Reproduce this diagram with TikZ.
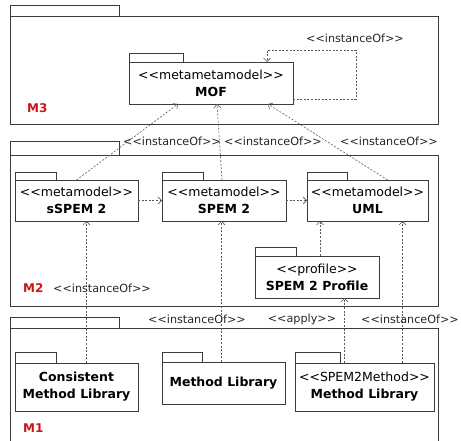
\documentclass[tikz,border=0pt]{standalone}
\usepackage{fontspec}
\setmainfont{DejaVu Sans}
\usepackage{xcolor}
\usepackage{tikz}
\usetikzlibrary{arrows.meta, calc, positioning}
\definecolor{boxline}{RGB}{60,60,60}
\definecolor{depline}{RGB}{90,90,90}
\definecolor{mred}{RGB}{205,20,20}
\newcommand{\stereo}[1]{<{}<#1>{}>}
\tikzset{
    pkg/.style={draw=boxline, line width=0.7pt, fill=white, align=center, inner sep=0pt, outer sep=0pt, font=\fontsize{12.5}{17}\selectfont},
    pkgtab/.style={draw=boxline, line width=0.7pt},
    layer/.style={draw=boxline, line width=0.8pt, inner sep=0pt, outer sep=0pt},
    dep/.style={draw=depline, line width=0.6pt, dash pattern=on 2pt off 1.6pt, ->},
    deplabel/.style={text=black!85, font=\fontsize{11.2}{12}\selectfont, inner sep=0pt},
    mlabel/.style={text=mred, font=\fontsize{12}{13}\selectfont\bfseries, inner sep=0pt, anchor=west}
}

\begin{document}
\begin{tikzpicture}[x=1pt, y=-1pt, >={Straight Barb[length=3.5pt, width=7pt]}]
    \path[use as bounding box, clip] (0,0) rectangle (461,441);
    \fill[white] (0,0) rectangle (461,441);
    % layers
    \node[layer, minimum width=428pt, minimum height=108pt, anchor=north west] (m3) at (10,16) {};
    \draw[layer] (m3.north west) rectangle ++(109,-11);
    \node[layer, minimum width=428pt, minimum height=151pt, anchor=north west] (m2) at (10,155) {};
    \draw[layer] (m2.north west) rectangle ++(109,-14);
    \node[layer, minimum width=428pt, minimum height=130pt, anchor=north west] (m1) at (10,328) {};
    \draw[layer] (m1.north west) rectangle ++(109,-11);
    \node[mlabel] (m3lab) at (27,108) {M3};
    \node[mlabel] (m2lab) at (23,288) {M2};
    \node[mlabel] (m1lab) at (23,428) {M1};
    % M3
    \node[pkg, minimum width=164pt, minimum height=42pt, anchor=north west] (mof) at (129,62)
        {\stereo{metametamodel}\\\textbf{MOF}};
    \draw[pkgtab] (mof.north west) rectangle ++(54,-9);
    % M2
    \node[pkg, minimum width=123pt, minimum height=41pt, anchor=north west] (sspem) at (15,180)
        {\stereo{metamodel}\\\textbf{sSPEM 2}};
    \draw[pkgtab] (sspem.north west) rectangle ++(41,-8);
    \node[pkg, minimum width=124pt, minimum height=41pt, anchor=north west] (spem) at (162,180)
        {\stereo{metamodel}\\\textbf{SPEM 2}};
    \draw[pkgtab] (spem.north west) rectangle ++(41,-8);
    \node[pkg, minimum width=121pt, minimum height=41pt, anchor=north west] (uml) at (307,180)
        {\stereo{metamodel}\\\textbf{UML}};
    \draw[pkgtab] (uml.north west) rectangle ++(40,-8);
    \node[pkg, minimum width=124pt, minimum height=42pt, anchor=north west] (profile) at (255,256)
        {\stereo{profile}\\\textbf{SPEM 2 Profile}};
    \draw[pkgtab] (profile.north west) rectangle ++(41,-9);
    % M1
    \node[pkg, minimum width=123pt, minimum height=48pt, anchor=north west] (cml) at (15,363)
        {\textbf{Consistent}\\\textbf{Method Library}};
    \draw[pkgtab] (cml.north west) rectangle ++(41,-11);
    \node[pkg, minimum width=123pt, minimum height=42pt, anchor=north west] (ml) at (162,362)
        {\textbf{Method Library}};
    \draw[pkgtab] (ml.north west) rectangle ++(40,-10);
    \node[pkg, minimum width=139pt, minimum height=48pt, anchor=north west] (sml) at (295,363)
        {\stereo{SPEM2Method}\\\textbf{Method Library}};
    \draw[pkgtab] (sml.north west) rectangle ++(45,-11);
    % dependencies
    \draw[dep] ([yshift=5pt]mof.south east) -- ++(63,0) -- ++(0,-49) -| ([xshift=56pt]mof.north);
    \draw[dep] (sspem.north) -- ([xshift=-33pt]mof.south);
    \draw[dep] ([xshift=-2pt]spem.north) -- ([xshift=6pt]mof.south);
    \draw[dep] ([xshift=20pt]uml.north) -- ([xshift=57pt]mof.south);
    \draw[dep] (sspem.east) -- (spem.west);
    \draw[dep] (spem.east) -- (uml.west);
    \draw[dep] ([xshift=3pt]profile.north) -- ([xshift=3pt]profile.north |- uml.south);
    \draw[dep] ([xshift=10pt]cml.north) -- ([xshift=10pt]cml.north |- sspem.south);
    \draw[dep] ([xshift=-2pt]ml.north) -- ([xshift=-2pt]ml.north |- spem.south);
    \draw[dep] ([xshift=-20pt]sml.north) -- ([xshift=-20pt]sml.north |- profile.south);
    \draw[dep] ([xshift=38pt]sml.north) -- ([xshift=38pt]sml.north |- uml.south);
    % labels
    \node[deplabel] (lself) at (355,38) {\stereo{instanceOf}};
    \node[deplabel] (lsspem) at (172,141) {\stereo{instanceOf}};
    \node[deplabel] (lspem) at (273,141) {\stereo{instanceOf}};
    \node[deplabel] (luml) at (389,141) {\stereo{instanceOf}};
    \node[deplabel] (lcml) at (102,288) {\stereo{instanceOf}};
    \node[deplabel] (lml) at (197,319) {\stereo{instanceOf}};
    \node[deplabel] (lapply) at (302,319) {\stereo{apply}};
    \node[deplabel] (lsml) at (410,319) {\stereo{instanceOf}};
\end{tikzpicture}
\end{document}
